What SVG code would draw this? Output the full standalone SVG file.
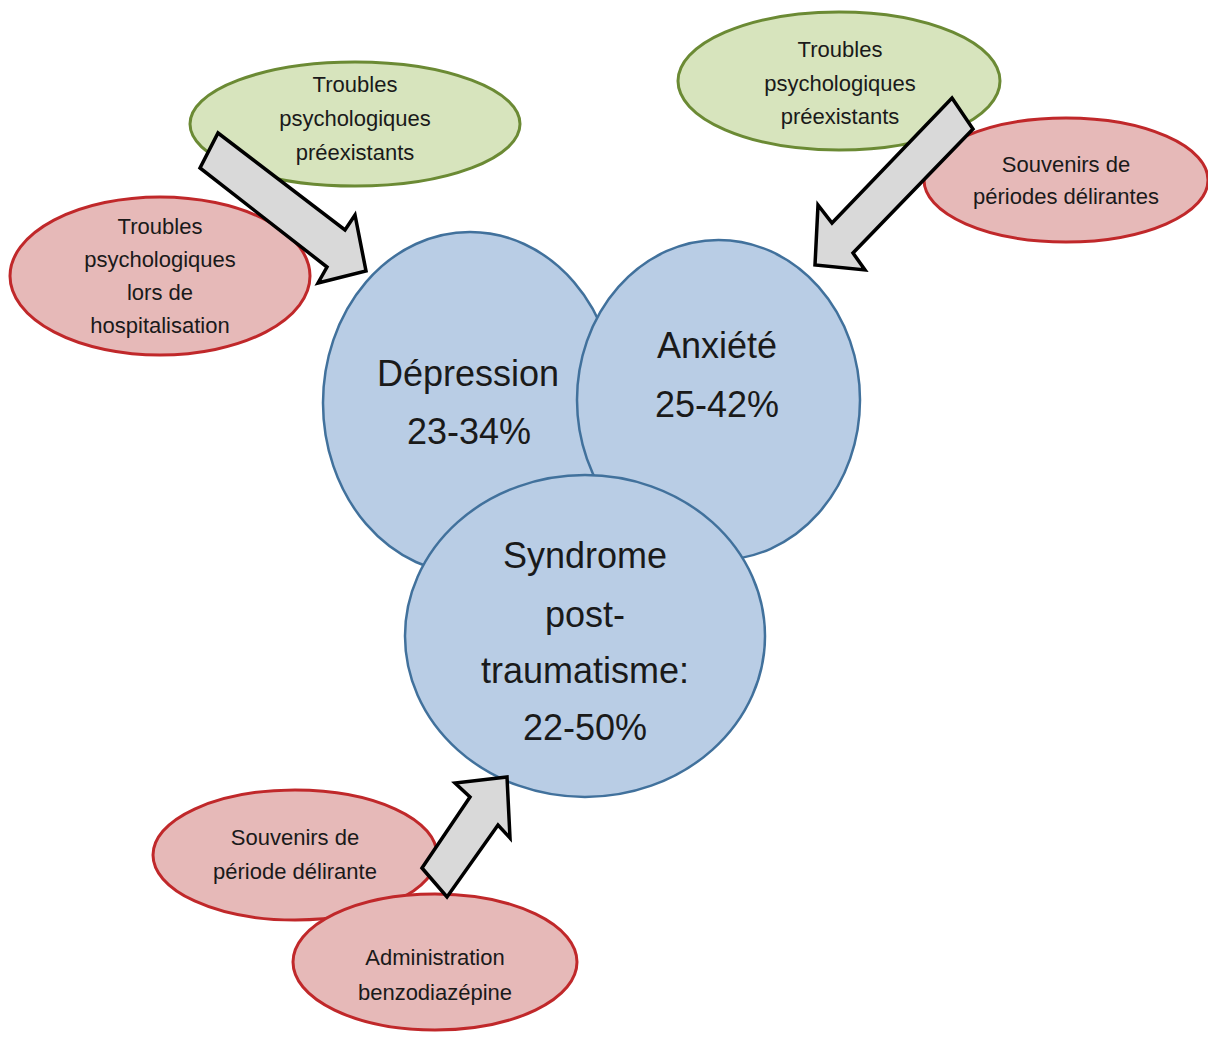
<svg xmlns="http://www.w3.org/2000/svg" width="1208" height="1039" viewBox="0 0 1208 1039">
<style>
text{font-family:"Liberation Sans",Arial,sans-serif;fill:#1a1a1a;text-anchor:middle}
.s{font-size:22px}
.b{font-size:36px}
.blue{fill:#b9cde5;stroke:#41719c;stroke-width:2.5}
.green{fill:#d7e4bd;stroke:#6b8a34;stroke-width:3}
.red{fill:#e6b9b8;stroke:#c0282a;stroke-width:3}
.arr{fill:#d9d9d9;stroke:#000;stroke-width:3.5;stroke-linejoin:miter}
</style>
<rect width="1208" height="1039" fill="#fff"/>
<g id="n-green-left"><ellipse class="green" cx="355" cy="124" rx="165" ry="62"/><text class="s" x="355" y="92">Troubles</text><text class="s" x="355" y="126">psychologiques</text><text class="s" x="355" y="160">préexistants</text></g>
<g id="n-red-left"><ellipse class="red" cx="160" cy="276" rx="150" ry="79"/><text class="s" x="160" y="234">Troubles</text><text class="s" x="160" y="267">psychologiques</text><text class="s" x="160" y="300">lors de</text><text class="s" x="160" y="333">hospitalisation</text></g>
<g id="n-green-right"><ellipse class="green" cx="839" cy="81" rx="161" ry="69"/><text class="s" x="840" y="57">Troubles</text><text class="s" x="840" y="91">psychologiques</text><text class="s" x="840" y="124">préexistants</text></g>
<g id="n-red-right"><ellipse class="red" cx="1066" cy="180" rx="142" ry="62"/><text class="s" x="1066" y="172">Souvenirs de</text><text class="s" x="1066" y="204">périodes délirantes</text></g>
<g id="n-depression"><ellipse class="blue" cx="470" cy="403" rx="147" ry="171"/><text class="b" x="468" y="386">Dépression</text><text class="b" x="469" y="444">23-34%</text></g>
<g id="n-anxiete"><ellipse class="blue" cx="718.5" cy="400" rx="141.5" ry="160"/><text class="b" x="717" y="358">Anxiété</text><text class="b" x="717" y="417">25-42%</text></g>
<g id="n-ptsd"><ellipse class="blue" cx="585" cy="636" rx="180" ry="161"/><text class="b" x="585" y="568">Syndrome</text><text class="b" x="585" y="627">post-</text><text class="b" x="585" y="683">traumatisme:</text><text class="b" x="585" y="740">22-50%</text></g>
<g id="n-red-b1"><ellipse class="red" cx="295" cy="855" rx="142" ry="65"/><text class="s" x="295" y="845">Souvenirs de</text><text class="s" x="295" y="879">période délirante</text></g>
<g id="n-red-b2"><ellipse class="red" cx="435" cy="962" rx="142" ry="68"/><text class="s" x="435" y="965">Administration</text><text class="s" x="435" y="1000">benzodiazépine</text></g>
<g id="connectors">
<polygon class="arr" points="218,133 345,230 355,215 366,271 318,283 327,267 200,168"/>
<polygon class="arr" points="952,98 973,129 853,253 865,270 815,265 818,205 832,223"/>
<polygon class="arr" points="422,868 470,797 455,783 507,777 510,838 498,825 447,897"/>
</g>
</svg>
